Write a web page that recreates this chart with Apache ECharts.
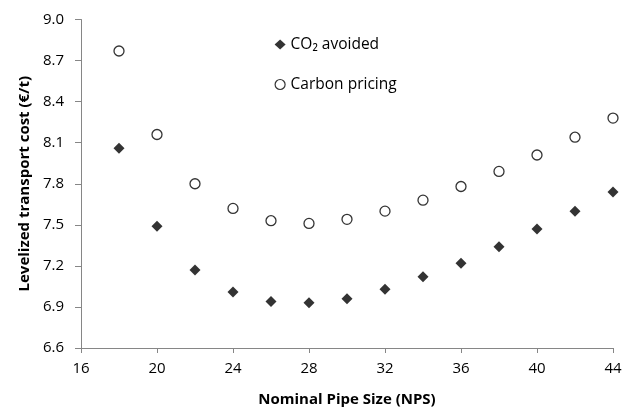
<!DOCTYPE html>
<html>
<head>
<meta charset="utf-8">
<script src="https://cdn.jsdelivr.net/npm/echarts@6/dist/echarts.min.js"></script>
<style>
html,body{margin:0;padding:0;background:#fff;}
#c{width:632px;height:412px;}
</style>
</head>
<body>
<div id="c"></div>
<script>
const nps = [18, 20, 22, 24, 26, 28, 30, 32, 34, 36, 38, 40, 42, 44];
const co2Avoided = [8.06, 7.49, 7.17, 7.01, 6.94, 6.93, 6.96, 7.03, 7.12, 7.22, 7.34, 7.47, 7.60, 7.74];
const carbonPricing = [8.77, 8.16, 7.80, 7.62, 7.53, 7.51, 7.54, 7.60, 7.68, 7.78, 7.89, 8.01, 8.14, 8.28];
const seriesNames = ['CO\u2082 avoided', 'Carbon pricing'];
const xTitle = 'Nominal Pipe Size (NPS)';
const yTitle = 'Levelized transport cost (\u20ac/t)';

const font = '"Open Sans", "Noto Sans", sans-serif';
const axisGray = '#868686';

const chart = echarts.init(document.getElementById('c'), null, {renderer: 'canvas'});
chart.setOption({
  animation: false,
  backgroundColor: '#fff',
  grid: {left: 81, right: 19, top: 19.5, bottom: 62, containLabel: false},
  legend: {
    orient: 'vertical',
    left: 269.5,
    top: 31.5,
    itemGap: 24,
    itemWidth: 11,
    itemHeight: 10,
    textStyle: {fontFamily: font, fontSize: 15.5, color: '#000'},
    data: [
      {name: seriesNames[0], icon: 'diamond'},
      {name: seriesNames[1], icon: 'circle', itemStyle: {borderWidth: 1.2}}
    ]
  },
  xAxis: {
    type: 'value',
    min: 16, max: 44, interval: 4,
    name: xTitle,
    nameLocation: 'middle',
    nameGap: 44,
    nameTextStyle: {fontFamily: font, fontSize: 15, fontWeight: 'bold', color: '#000'},
    axisLine: {show: true, lineStyle: {color: axisGray, width: 1}},
    axisTick: {show: true, inside: false, length: 5, lineStyle: {color: axisGray}},
    axisLabel: {fontFamily: font, fontSize: 15, color: '#000', margin: 13},
    splitLine: {show: false}
  },
  yAxis: {
    type: 'value',
    min: 6.6, max: 9.0, interval: 0.3,
    name: yTitle,
    nameLocation: 'middle',
    nameRotate: 90,
    nameGap: 48,
    nameTextStyle: {fontFamily: font, fontSize: 15, fontWeight: 'bold', color: '#000'},
    axisLine: {show: true, lineStyle: {color: axisGray, width: 1}},
    axisTick: {show: true, inside: false, length: 6, lineStyle: {color: axisGray}},
    axisLabel: {fontFamily: font, fontSize: 15, color: '#000', margin: 17,
      formatter: v => v.toFixed(1)},
    splitLine: {show: false}
  },
  series: [
    {
      name: seriesNames[0],
      type: 'scatter',
      symbol: 'diamond',
      symbolSize: 11,
      itemStyle: {color: '#000'},
      data: nps.map((x, i) => [x, co2Avoided[i]])
    },
    {
      name: seriesNames[1],
      type: 'scatter',
      symbol: 'circle',
      symbolSize: 10,
      itemStyle: {color: '#fff', borderColor: '#000', borderWidth: 1.3},
      data: nps.map((x, i) => [x, carbonPricing[i]])
    }
  ]
});
</script>
</body>
</html>
